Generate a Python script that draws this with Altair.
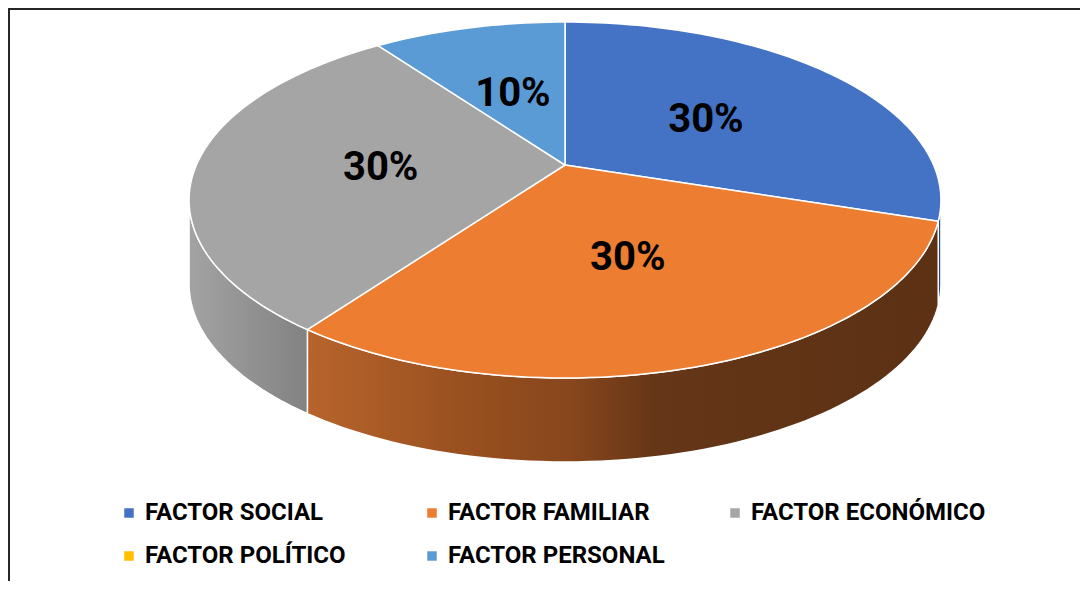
import numpy as np
import pandas as pd
import altair as alt

# ---- data ----
categories = ["FACTOR SOCIAL", "FACTOR FAMILIAR", "FACTOR ECONÓMICO", "FACTOR POLÍTICO", "FACTOR PERSONAL"]
values = [30, 30, 30, 0, 10]
colors = ["#4472C4", "#ED7D31", "#A5A5A5", "#FFC000", "#5B9BD5"]
wall_stops = {
    "FACTOR SOCIAL": [("#2F5597", 0), ("#1F3864", 1)],
    "FACTOR FAMILIAR": [("#B8642C", 0), ("#98501F", 0.25), ("#87461C", 0.42), ("#653617", 0.55), ("#5C3114", 1)],
    "FACTOR ECONÓMICO": [("#A3A3A3", 0), ("#828282", 1)],
    "FACTOR PERSONAL": [("#41719C", 0), ("#2E5A80", 1)],
}

# ---- layout of the tilted pie (plot-area pixels) ----
W, H = 1072, 573
CX, CY = 557.0, 157.0
A, B, K = 368.6, 171.1, 0.1966
T = 84.0


def proj(theta_deg, r=1.0):
    th = np.radians(theta_deg)
    u = r * np.sin(th)
    v = r * np.cos(th)
    d = 1 + K * v
    return CX + A * u / d, CY - B * v / d


total = float(sum(values))
starts = np.cumsum([0] + values[:-1]) / total * 360.0
ends = starts + np.array(values) / total * 360.0

# top faces
top_rows = []
for c, s, e, v in zip(categories, starts, ends, values):
    if v <= 0:
        continue
    pts = [(CX, CY)]
    n = max(int((e - s) / 1.5), 2)
    for th in np.linspace(s, e, n + 1):
        pts.append(proj(th))
    pts.append((CX, CY))
    for i, (x, y) in enumerate(pts):
        top_rows.append({"cat": c, "i": i, "x": x, "y": y})
top_df = pd.DataFrame(top_rows)

# visible side walls
th_r = np.degrees(np.arccos(-K))
th_l = 360.0 - th_r
wall_dfs = {}
for c, s, e, v in zip(categories, starts, ends, values):
    a, b = max(s, th_r), min(e, th_l)
    if v <= 0 or b <= a:
        continue
    n = max(int((b - a) / 1.5), 2)
    ths = np.linspace(a, b, n + 1)
    pts = [proj(t) for t in ths]
    pts += [(x, y + T) for (x, y) in reversed([proj(t) for t in ths])]
    pts.append(pts[0])
    wall_dfs[c] = pd.DataFrame([{"i": i, "x": x, "y": y} for i, (x, y) in enumerate(pts)])

# labels
lab_rows = []
for c, s, e, v in zip(categories, starts, ends, values):
    if v <= 0:
        continue
    x, y = proj((s + e) / 2.0, 0.5)
    lab_rows.append({"cat": c, "x": x, "y": y, "text": f"{v}%"})
lab_df = pd.DataFrame(lab_rows)

xs = alt.Scale(domain=[0, W], nice=False, zero=False)
ys = alt.Scale(domain=[0, H], nice=False, zero=False, reverse=True)
cscale = alt.Scale(domain=categories, range=colors)

legend = alt.Legend(
    title=None,
    orient="none",
    direction="horizontal",
    legendX=109,
    legendY=493,
    columns=3,
    gridAlign="all",
    columnPadding=40,
    rowPadding=19,
    symbolType="square",
    symbolSize=90,
    symbolOpacity=1,
    symbolStrokeWidth=0,
    labelFont="Roboto",
    labelFontWeight="bold",
    labelFontSize=24,
    labelColor="black",
    labelOffset=4,
    labelLimit=400,
    padding=0,
    labelExpr="datum.label == 'FACTOR SOCIAL' ? '\u00a0' + datum.label : datum.label",
)

layers = []

# frame (left and top border lines)
frame_df = pd.DataFrame({"k": ["left", "top"]})
layers.append(
    alt.Chart(frame_df).transform_filter("datum.k == 'left'").mark_rule(color="#262626", strokeWidth=2).encode(
        x=alt.value(1), y=alt.value(0), y2=alt.value(H)
    )
)
layers.append(
    alt.Chart(frame_df).transform_filter("datum.k == 'top'").mark_rule(color="#262626", strokeWidth=2).encode(
        x=alt.value(0), x2=alt.value(W), y=alt.value(1)
    )
)

for c, df in wall_dfs.items():
    grad = alt.Gradient(
        gradient="linear",
        stops=[alt.GradientStop(color=col, offset=off) for col, off in wall_stops[c]],
        x1=0, x2=1, y1=0, y2=0,
    )
    layers.append(
        alt.Chart(df).mark_line(fill=grad, stroke="white", strokeWidth=1.5, strokeJoin="round").encode(
            x=alt.X("x:Q", scale=xs, axis=None),
            y=alt.Y("y:Q", scale=ys, axis=None),
            order=alt.Order("i:Q"),
        )
    )

top = alt.Chart(top_df).mark_line(filled=True, stroke="white", strokeWidth=1.5, strokeJoin="round").encode(
    x=alt.X("x:Q", scale=xs, axis=None),
    y=alt.Y("y:Q", scale=ys, axis=None),
    color=alt.Color("cat:N", scale=cscale, legend=legend),
    detail="cat:N",
    order=alt.Order("i:Q"),
)
layers.append(top)

labels = alt.Chart(lab_df).mark_text(
    font="Roboto", fontWeight="bold", fontSize=40, color="black", baseline="middle", align="center", dy=3
).encode(
    x=alt.X("x:Q", scale=xs, axis=None),
    y=alt.Y("y:Q", scale=ys, axis=None),
    text="text:N",
)
layers.append(labels)

legend_df = pd.DataFrame({"cat": categories})
legend_layer = alt.Chart(legend_df).mark_square(opacity=0, size=1).encode(
    x=alt.value(0),
    y=alt.value(0),
    color=alt.Color("cat:N", scale=cscale, legend=legend),
)
layers.append(legend_layer)

chart = (
    alt.layer(*layers)
    .properties(width=W, height=H, autosize=alt.AutoSizeParams(type="none"), padding=0, background="white")
    .configure_view(stroke=None)
)

chart.save("out.html", embed_options={"renderer": "svg", "actions": False})
